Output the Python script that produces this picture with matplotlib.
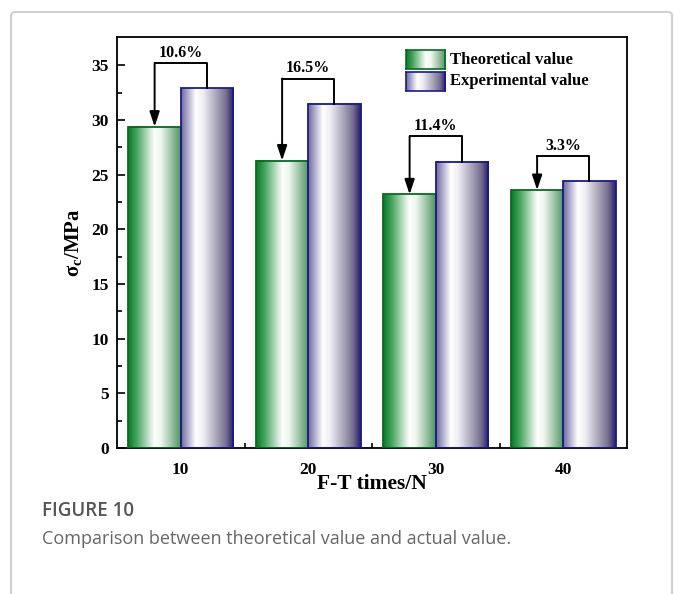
import numpy as np
import matplotlib
matplotlib.use('Agg')
import matplotlib.pyplot as plt
from matplotlib.colors import LinearSegmentedColormap
from matplotlib.patches import FancyBboxPatch

# freeze-thaw cycles and compressive strength (MPa)
cycles = ['10', '20', '30', '40']
theoretical = [29.4, 26.3, 23.2, 23.6]
experimental = [32.9, 31.5, 26.2, 24.4]
gaps = ['10.6%', '16.5%', '11.4%', '3.3%']

plt.rcParams['font.family'] = ['Liberation Serif', 'DejaVu Serif']
plt.rcParams['font.weight'] = 'bold'
plt.rcParams['mathtext.fontset'] = 'custom'
plt.rcParams['mathtext.rm'] = 'Liberation Serif:bold'
plt.rcParams['mathtext.it'] = 'Liberation Serif:bold'

green_cm = LinearSegmentedColormap.from_list('g', [(0, '#07782a'), (0.15, '#40a058'), (0.5, '#ffffff'),
                                                   (0.62, '#f0f7f1'), (1, '#4f9462')])
purple_cm = LinearSegmentedColormap.from_list('p', [(0, '#6d68a0'), (0.28, '#ffffff'), (0.42, '#eeeef3'),
                                                    (0.85, '#77708f'), (1, '#261c6c')])
grad = np.linspace(0, 1, 256).reshape(1, -1)

fig = plt.figure(figsize=(6.75, 5.94), dpi=100)

# card frame
card = FancyBboxPatch((11 / 675, -0.05), 661 / 675, 1 - 12 / 594 + 0.05, boxstyle='round,pad=0,rounding_size=0.006',
                      transform=fig.transFigure, facecolor='white', edgecolor='#d0d0d0', linewidth=1.5,
                      zorder=-10)
fig.patches.append(card)

ax = fig.add_axes([117 / 675, 1 - 448 / 594, 510 / 675, 411 / 594])
ax.patch.set_alpha(0)

x = np.arange(1, len(cycles) + 1)
w = 0.41
b1 = ax.bar(x - w / 2, theoretical, w, fill=False, edgecolor='#0a6a22', linewidth=1.3, zorder=3)
b2 = ax.bar(x + w / 2, experimental, w, fill=False, edgecolor='#1c1a8a', linewidth=1.3, zorder=3)

for bars, cm in ((b1, green_cm), (b2, purple_cm)):
    for p in bars:
        x0, h = p.get_x(), p.get_height()
        ax.imshow(grad, cmap=cm, extent=(x0, x0 + p.get_width(), 0, h), aspect='auto', zorder=2,
                  interpolation='bilinear')

# difference brackets with arrows
for i in range(len(cycles)):
    xg, xe = x[i] - w / 2, x[i] + w / 2
    lvl = experimental[i] + 2.3
    ax.plot([xe, xe, xg], [experimental[i], lvl, lvl], color='black', lw=1.4, zorder=4)
    ax.annotate('', xy=(xg, theoretical[i]), xytext=(xg, lvl),
                arrowprops=dict(arrowstyle='-|>,head_length=0.9,head_width=0.3', color='black', lw=1.4,
                                shrinkA=0, shrinkB=0), zorder=4)
    ax.text(x[i], lvl + 0.2, gaps[i], ha='center', va='bottom', fontsize=11.5, fontweight='bold')

ax.set_xlim(0.5, 4.5)
ax.set_ylim(0, 37.6)
ax.set_xticks(x)
ax.set_xticklabels(cycles)
ax.set_xticks([1.5, 2.5, 3.5], minor=True)
ax.set_yticks(np.arange(0, 36, 5))
ax.set_yticks(np.arange(2.5, 36, 5), minor=True)
ax.tick_params(axis='x', which='major', length=0, pad=10, labelsize=12.5)
ax.tick_params(axis='x', which='minor', direction='in', length=3.5, width=1.2)
ax.tick_params(axis='y', which='major', direction='in', length=6, width=1.2, labelsize=12.5, pad=6)
ax.tick_params(axis='y', which='minor', direction='in', length=3.5, width=1.2)
for s in ax.spines.values():
    s.set_linewidth(1.3)

ax.set_xlabel('F-T times/N', fontsize=15.5, fontweight='bold', labelpad=-3)
ax.set_ylabel(r'$\sigma_\mathrm{c}$/MPa', fontsize=15, fontweight='bold', labelpad=5)

# legend boxes
for k, (cm, ec, label) in enumerate(((green_cm, '#0a6a22', 'Theoretical value'),
                                      (purple_cm, '#1c1a8a', 'Experimental value'))):
    y0 = 0.922 - k * 0.053
    lax = ax.inset_axes([0.567, y0, 0.0765, 0.046])
    lax.imshow(grad, cmap=cm, aspect='auto', interpolation='bilinear')
    lax.set_xticks([])
    lax.set_yticks([])
    for s in lax.spines.values():
        s.set_edgecolor(ec)
        s.set_linewidth(1.2)
    ax.text(0.653, y0 + 0.023, label, transform=ax.transAxes, ha='left', va='center', fontsize=12,
            fontweight='bold')

fig.text(42 / 675, 1 - 511 / 594, 'FIGURE 10', family=['Open Sans', 'DejaVu Sans'], fontsize=13.5,
         fontweight='semibold', color='#555555', va='center')
fig.text(42 / 675, 1 - 539 / 594, 'Comparison between theoretical value and actual value.',
         family=['Open Sans', 'DejaVu Sans'], fontsize=13, fontweight='normal', color='#666666', va='center')

fig.savefig('out.png', dpi=100)
